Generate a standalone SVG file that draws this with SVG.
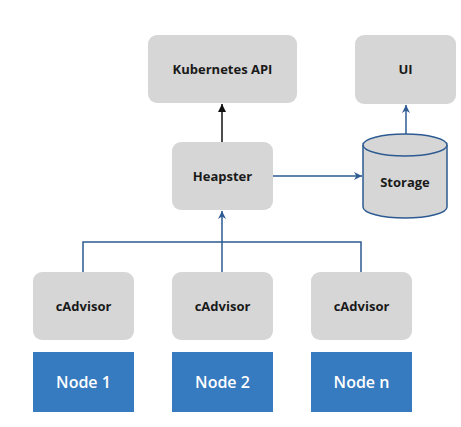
<svg xmlns="http://www.w3.org/2000/svg" width="461" height="427" viewBox="0 0 461 427">
<style>
.box{fill:#d6d6d6;}
.node{fill:#367abf;}
.t{font-family:"Open Sans","Liberation Sans",sans-serif;font-weight:700;font-size:13px;fill:#1a1a1a;text-anchor:middle;}
.nt{font-family:"Open Sans","Liberation Sans",sans-serif;font-weight:600;font-size:16px;fill:#ffffff;text-anchor:middle;}
.blue{stroke:#2d5b91;stroke-width:1.5;fill:none;}
.black{stroke:#111;stroke-width:1.5;fill:none;}
</style>
<defs>
<marker id="ab" viewBox="0 0 10 10" refX="10" refY="5" markerWidth="9" markerHeight="8" markerUnits="userSpaceOnUse" orient="auto"><path d="M0,0 L10,5 L0,10 L3,5 Z" fill="#2d5b91"/></marker>
<marker id="ak" viewBox="0 0 10 10" refX="10" refY="5" markerWidth="12" markerHeight="8" markerUnits="userSpaceOnUse" orient="auto"><path d="M0,0 L10,5 L0,10 Z" fill="#111"/></marker>
</defs>
<rect width="461" height="427" fill="#ffffff"/>
<g id="connectors">
<line class="black" x1="222" y1="142" x2="222" y2="104" marker-end="url(#ak)"/>
<line class="blue" x1="273" y1="176" x2="362" y2="176" marker-end="url(#ab)"/>
<line class="blue" x1="406" y1="134" x2="406" y2="105" marker-end="url(#ab)"/>
<polyline class="blue" points="83,272 83,242 361,242 361,272"/>
<line class="blue" x1="222" y1="272" x2="222" y2="211" marker-end="url(#ab)"/>
</g>
<g id="k8s"><rect class="box" x="148" y="35" width="149" height="68" rx="9"/><text class="t" x="222.5" y="74">Kubernetes API</text></g>
<g id="ui"><rect class="box" x="355" y="35" width="101" height="69" rx="9"/><text class="t" x="405.5" y="74">UI</text></g>
<g id="heapster"><rect class="box" x="172" y="142" width="101" height="68" rx="9"/><text class="t" x="222.5" y="181">Heapster</text></g>
<g id="storage">
<path d="M363,145 L363,207 A42,11 0 0 0 447,207 L447,145" fill="#d6d6d6" stroke="#2d5b91" stroke-width="1.5"/>
<ellipse cx="405" cy="145" rx="42" ry="11" fill="#d6d6d6" stroke="#2d5b91" stroke-width="1.5"/>
<text class="t" x="405" y="187">Storage</text>
</g>
<g id="cadvisor1"><rect class="box" x="33" y="272" width="101" height="68" rx="9"/><text class="t" x="83.5" y="311">cAdvisor</text></g>
<g id="cadvisor2"><rect class="box" x="172" y="272" width="101" height="68" rx="9"/><text class="t" x="222.5" y="311">cAdvisor</text></g>
<g id="cadvisor3"><rect class="box" x="311" y="272" width="101" height="68" rx="9"/><text class="t" x="361.5" y="311">cAdvisor</text></g>
<g id="node1"><rect class="node" x="33" y="352" width="101" height="60"/><text class="nt" x="83.5" y="388">Node 1</text></g>
<g id="node2"><rect class="node" x="172" y="352" width="101" height="60"/><text class="nt" x="222.5" y="388">Node 2</text></g>
<g id="noden"><rect class="node" x="311" y="352" width="101" height="60"/><text class="nt" x="361.5" y="388">Node n</text></g>
</svg>
